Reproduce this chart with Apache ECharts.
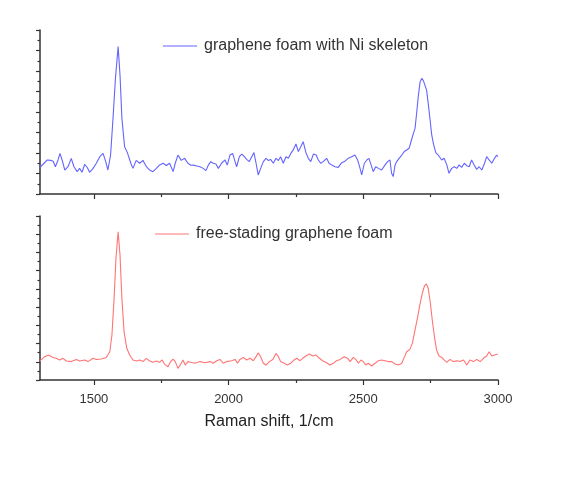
<!DOCTYPE html>
<html>
<head>
<meta charset="utf-8">
<script src="https://cdn.jsdelivr.net/npm/echarts@6/dist/echarts.min.js"></script>
<style>html,body{margin:0;padding:0;background:#fff;}#c{width:572px;height:484px;}</style>
</head>
<body>
<div id="c"></div>
<script>
var seriesNames = ['graphene foam with Ni skeleton', 'free-stading graphene foam'];
var xMajorTicks = [1500, 2000, 2500, 3000];
var xMinorTicks = [1750, 2250, 2750];
var axisTitle = 'Raman shift, 1/cm';

var niShift = [1300,1305,1315,1327,1340,1349,1357,1367,1374,1382,1392,1404,1416,1426,1438,1447,1456,1466,1476,1484,1497,1509,1522,1534,1544,1552,1562,1571,1580,1590,1597,1604,1614,1624,1637,1645,1657,1670,1682,1695,1707,1719,1732,1744,1757,1769,1781,1794,1802,1812,1824,1837,1849,1860,1869,1882,1894,1906,1916,1925,1934,1943,1953,1962,1974,1987,1995,2005,2015,2024,2030,2040,2049,2057,2067,2077,2086,2094,2102,2110,2119,2129,2139,2148,2156,2166,2176,2185,2193,2203,2213,2222,2231,2240,2250,2259,2268,2277,2287,2296,2305,2315,2325,2333,2342,2351,2364,2373,2383,2395,2407,2420,2432,2444,2457,2469,2479,2488,2494,2504,2513,2521,2529,2537,2546,2556,2568,2581,2590,2599,2605,2611,2618,2624,2633,2643,2652,2661,2670,2677,2686,2692,2698,2704,2711,2717,2723,2729,2735,2741,2748,2754,2760,2769,2778,2791,2800,2810,2818,2828,2838,2847,2856,2865,2875,2884,2893,2902,2913,2921,2930,2940,2950,2958,2967,2977,2987,2995,2999];
var niIntensity = [1.30,1.25,1.50,1.66,1.64,1.60,1.33,1.66,1.98,1.66,1.17,1.33,1.74,1.33,1.09,1.25,1.06,1.45,1.28,1.06,1.25,1.50,1.82,1.98,1.58,1.17,1.90,3.69,5.64,7.19,5.80,3.69,2.31,2.03,1.50,1.25,1.64,1.50,1.64,1.33,1.17,1.09,1.25,1.42,1.50,1.39,1.50,1.09,1.50,1.90,1.64,1.74,1.50,1.40,1.41,1.37,1.33,1.25,1.14,1.41,1.58,1.50,1.46,1.25,1.50,1.66,1.41,1.90,1.98,1.58,1.33,1.82,1.95,1.85,1.69,1.58,1.82,2.02,1.50,0.93,1.25,1.58,1.74,1.63,1.69,1.50,1.74,1.63,1.82,1.50,1.82,1.74,1.98,2.15,2.44,2.07,2.31,2.55,2.02,1.74,1.58,1.95,1.90,1.66,1.50,1.58,1.74,1.50,1.41,1.33,1.30,1.53,1.60,1.74,1.82,1.90,1.66,1.25,0.93,1.50,1.66,1.74,1.42,1.09,1.33,1.25,1.17,1.42,1.58,1.66,1.01,0.85,1.42,1.58,1.74,1.90,2.07,2.15,2.23,2.55,2.96,3.20,3.94,4.75,5.48,5.64,5.53,5.48,5.07,4.42,3.61,2.88,2.47,2.02,1.90,1.66,1.74,1.42,1.01,1.25,1.33,1.25,1.42,1.30,1.50,1.38,1.33,1.66,1.38,1.20,1.33,1.17,1.50,1.82,1.66,1.50,1.74,1.90,1.82];

var freeShift = [1300,1305,1317,1332,1348,1360,1373,1385,1398,1416,1435,1447,1466,1478,1497,1509,1528,1546,1559,1567,1575,1582,1590,1597,1604,1612,1622,1633,1645,1658,1670,1682,1695,1707,1719,1732,1744,1753,1763,1775,1785,1794,1802,1812,1822,1831,1839,1849,1859,1875,1894,1912,1931,1943,1956,1968,1980,1993,2011,2024,2033,2042,2055,2067,2080,2092,2102,2110,2119,2129,2139,2151,2164,2176,2185,2193,2206,2218,2231,2243,2253,2265,2275,2287,2300,2312,2325,2337,2349,2364,2376,2389,2401,2414,2429,2442,2451,2463,2472,2482,2491,2500,2509,2519,2531,2544,2556,2568,2581,2593,2606,2618,2630,2643,2652,2661,2673,2682,2692,2702,2711,2719,2727,2734,2741,2749,2756,2764,2772,2781,2791,2800,2810,2822,2834,2847,2859,2872,2884,2896,2909,2921,2934,2946,2958,2967,2977,2987,2999];
var freeIntensity = [1.05,1.10,1.28,1.37,1.23,1.19,1.10,1.19,1.04,1.01,1.13,1.04,1.10,1.01,1.19,1.13,1.15,1.23,1.55,2.47,4.48,6.68,8.14,6.86,4.48,2.65,1.74,1.37,1.10,1.04,1.10,1.01,1.19,1.04,0.97,1.04,0.97,1.10,0.86,0.73,1.01,1.15,1.01,0.64,0.86,1.10,0.82,1.01,0.97,0.92,1.01,0.95,1.01,0.92,1.06,1.13,0.92,1.01,1.06,1.13,0.92,1.13,1.24,1.10,1.19,1.06,1.28,1.50,1.28,0.92,0.82,1.01,1.13,1.46,1.28,1.01,0.92,0.82,0.92,1.10,1.19,1.06,1.19,1.32,1.43,1.32,1.37,1.19,1.06,0.95,0.82,0.92,1.06,1.13,1.28,1.19,1.01,1.24,1.13,0.92,1.10,1.01,0.82,0.92,0.77,0.92,1.06,1.10,1.06,1.01,1.01,0.88,0.82,0.92,1.24,1.55,1.68,2.01,2.74,3.48,4.21,4.76,5.16,5.27,5.03,4.21,3.29,2.38,1.65,1.32,1.24,1.10,0.97,1.13,1.01,1.06,1.01,1.10,0.82,1.10,1.01,1.13,1.01,1.19,1.32,1.55,1.32,1.37,1.43];

function pairs(xs, ys) { return xs.map(function (x, i) { return [x, ys[i]]; }); }

var FONT = '"Liberation Sans", Arial, sans-serif';
var AX = '#333333';
var BLUE = '#6464ff';
var RED = '#ff7474';

function mainX(gridIndex, showLabels) {
  return {
    type: 'value', gridIndex: gridIndex, min: 1300, max: 3000, position: 'bottom',
    splitLine: { show: false },
    axisLine: { show: true, onZero: false, lineStyle: { color: AX, width: 1.5 } },
    axisTick: { show: true, inside: false, length: 5, customValues: xMajorTicks, lineStyle: { color: AX, width: 1.2 } },
    axisLabel: { show: showLabels, customValues: xMajorTicks, margin: 13, color: '#333', fontSize: 13, fontFamily: FONT,
      formatter: function (v) { return String(v); } },
    name: showLabels ? axisTitle : '', nameLocation: 'middle', nameGap: 34,
    nameTextStyle: { color: '#222', fontSize: 16, fontFamily: FONT }
  };
}
function minorX(gridIndex) {
  return {
    type: 'value', gridIndex: gridIndex, min: 1300, max: 3000, position: 'bottom',
    splitLine: { show: false },
    axisLine: { show: false, onZero: false },
    axisTick: { show: true, inside: false, length: 3, customValues: xMinorTicks, lineStyle: { color: AX, width: 1.2 } },
    axisLabel: { show: false }
  };
}
function yAx(gridIndex, max) {
  return {
    type: 'value', gridIndex: gridIndex, min: 0, max: max, interval: 1,
    splitLine: { show: false },
    axisLine: { show: true, onZero: false, lineStyle: { color: AX, width: 1.5 } },
    axisTick: { show: true, inside: false, length: 4, lineStyle: { color: AX, width: 1.2 } },
    minorTick: { show: true, splitNumber: 2, length: 2.5, lineStyle: { color: AX, width: 1.2 } },
    minorSplitLine: { show: false },
    axisLabel: { show: false }
  };
}

var chart = echarts.init(document.getElementById('c'), null, { renderer: 'canvas' });
chart.setOption({
  animation: false,
  backgroundColor: '#ffffff',
  textStyle: { fontFamily: FONT },
  grid: [
    { left: 40, top: 30, width: 458, height: 164 },
    { left: 40, top: 216, width: 458, height: 164 }
  ],
  xAxis: [mainX(0, false), mainX(1, true), minorX(0), minorX(1)],
  yAxis: [yAx(0, 8), yAx(1, 9)],
  legend: [
    { data: [seriesNames[0]], left: 163, top: 38, icon: 'rect', itemWidth: 34, itemHeight: 1, itemGap: 0, padding: 0,
      textStyle: { color: '#333', fontSize: 16, fontFamily: FONT, padding: [0, 0, 0, 2] } },
    { data: [seriesNames[1]], left: 155, top: 226, icon: 'rect', itemWidth: 34, itemHeight: 1, itemGap: 0, padding: 0,
      textStyle: { color: '#333', fontSize: 16, fontFamily: FONT, padding: [0, 0, 0, 2] } }
  ],
  series: [
    { name: seriesNames[0], type: 'line', xAxisIndex: 0, yAxisIndex: 0, data: pairs(niShift, niIntensity),
      symbol: 'none', smooth: false, lineStyle: { color: BLUE, width: 1.1 }, itemStyle: { color: BLUE } },
    { name: seriesNames[1], type: 'line', xAxisIndex: 1, yAxisIndex: 1, data: pairs(freeShift, freeIntensity),
      symbol: 'none', smooth: false, lineStyle: { color: RED, width: 1.1 }, itemStyle: { color: RED } }
  ]
});
</script>
</body>
</html>
